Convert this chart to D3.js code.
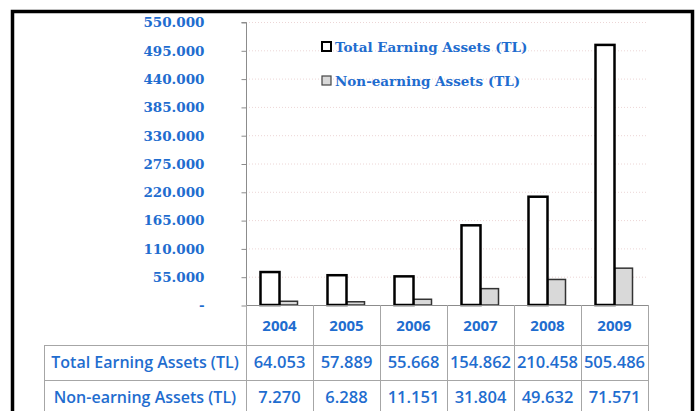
<!DOCTYPE html>
<html>
<head>
<meta charset="utf-8">
<script src="https://cdn.jsdelivr.net/npm/d3@7"></script>
<style>
	body { margin: 0; background: #fff; }
	svg { display: block; }
</style>
</head>
<body>
<div id="graph"></div>
<script>
let width = 697;
let height = 411;

// Data:
let years = ["2004", "2005", "2006", "2007", "2008", "2009"];
let seriesNames = ["Total Earning Assets (TL)", "Non-earning Assets (TL)"];
let totalEarning = [64053, 57889, 55668, 154862, 210458, 505486];
let nonEarning = [7270, 6288, 11151, 31804, 49632, 71571];
let yTicks = [0, 55000, 110000, 165000, 220000, 275000, 330000, 385000, 440000, 495000, 550000];

let blue = "#1f6dcf";
let serifFont = "'DejaVu Serif', serif";
let sansFont = "'Open Sans', 'Noto Sans', sans-serif";

let plot = {
	left: 246,
	right: 648,
	top: 22,
	bottom: 305
	};

// Thousands with a dot, like the original:
let locale = d3.formatLocale({
	decimal: ",",
	thousands: ".",
	grouping: [3],
	currency: ["", ""]
	});
let fmt = locale.format(",");

let svg = d3.select("#graph")
	.append("svg")
		.attr("width", width)
		.attr("height", height)
	;

let xScale = d3.scaleBand()
	.domain(years)
	.range([plot.left, plot.right])
	.padding(0)
	;
let subScale = d3.scaleBand()
	.domain(["total", "non"])
	.range([xScale.bandwidth() / 2 - 19, xScale.bandwidth() / 2 + 19])
	.padding(0)
	;
let yScale = d3.scaleLinear()
	.domain([0, 550000])
	.range([plot.bottom, plot.top])
	;

// Dotted gridlines
svg.append("g")
	.selectAll("line")
	.data(yTicks.filter(d => d > 0))
	.enter()
		.append("line")
			.attr("x1", plot.left)
			.attr("x2", plot.right)
			.attr("y1", d => yScale(d) + 0.5)
			.attr("y2", d => yScale(d) + 0.5)
			.attr("stroke", "#ecd6d6")
			.attr("stroke-dasharray", "1,2")
	;

// y axis
let yAxis = d3.axisLeft(yScale)
	.tickValues(yTicks)
	.tickSize(5)
	.tickSizeOuter(5)
	.tickPadding(37)
	.tickFormat(d => d === 0 ? "-" : fmt(d))
	;
let yG = svg.append("g")
	.attr("transform", `translate(${plot.left + 0.5}, 0.5)`)
	.call(yAxis)
	;
yG.selectAll("path, line").attr("stroke", "#8c8c8c");
yG.select(".domain").attr("d", `M-5,${plot.top}H0V${plot.bottom}`);
yG.selectAll("text")
	.attr("fill", blue)
	.style("font-family", serifFont)
	.style("font-weight", "bold")
	.style("font-size", "13.5px")
	;

// Bars
let groups = svg.append("g")
	.selectAll("g")
	.data(years.map((y, i) => ({year: y, total: totalEarning[i], non: nonEarning[i]})))
	.enter()
		.append("g")
			.attr("transform", d => `translate(${xScale(d.year)}, 0)`)
	;
groups.append("rect")
	.attr("x", subScale("non"))
	.attr("y", d => yScale(d.non))
	.attr("width", subScale.bandwidth() - 1)
	.attr("height", d => yScale(0) - yScale(d.non))
	.attr("fill", "#d9d9d9")
	.attr("stroke", "#333")
	.attr("stroke-width", 1.5)
	;
groups.append("rect")
	.attr("x", subScale("total"))
	.attr("y", d => yScale(d.total))
	.attr("width", subScale.bandwidth())
	.attr("height", d => yScale(0) - yScale(d.total))
	.attr("fill", "#fff")
	.attr("stroke", "#000")
	.attr("stroke-width", 2.5)
	;

// x axis line
svg.append("line")
	.attr("x1", plot.left)
	.attr("x2", plot.right)
	.attr("y1", plot.bottom + 0.5)
	.attr("y2", plot.bottom + 0.5)
	.attr("stroke", "#8c8c8c")
	;

// Legend
let legend = svg.append("g")
	.selectAll("g")
	.data(seriesNames)
	.enter()
		.append("g")
			.attr("transform", (d, i) => `translate(322, ${42 + i * 34})`)
	;
legend.append("rect")
	.attr("width", 9)
	.attr("height", 9)
	.attr("fill", (d, i) => i === 0 ? "#fff" : "#d9d9d9")
	.attr("stroke", (d, i) => i === 0 ? "#000" : "#444")
	.attr("stroke-width", (d, i) => i === 0 ? 2 : 1.2)
	;
legend.append("text")
	.attr("x", 13)
	.attr("y", 9.5)
	.attr("fill", blue)
	.style("font-family", serifFont)
	.style("font-weight", "bold")
	.style("font-size", "13.5px")
	.text(d => d)
	;

// Data table below the chart
let table = {
	labelLeft: 44,
	headerBottom: 345,
	row1Bottom: 380,
	row2Bottom: 420
	};
let tg = svg.append("g");
let gridColor = "#a6a6a6";

// verticals for year columns
tg.selectAll(".vline")
	.data(years.concat(["end"]))
	.enter()
		.append("line")
			.attr("x1", d => (d === "end" ? plot.right : xScale(d)) + 0.5)
			.attr("x2", d => (d === "end" ? plot.right : xScale(d)) + 0.5)
			.attr("y1", plot.bottom)
			.attr("y2", table.row2Bottom)
			.attr("stroke", gridColor)
	;
tg.append("line")
	.attr("x1", table.labelLeft + 0.5)
	.attr("x2", table.labelLeft + 0.5)
	.attr("y1", table.headerBottom)
	.attr("y2", table.row2Bottom)
	.attr("stroke", gridColor)
	;
[table.headerBottom, table.row1Bottom].forEach(y => {
	tg.append("line")
		.attr("x1", table.labelLeft)
		.attr("x2", plot.right)
		.attr("y1", y + 0.5)
		.attr("y2", y + 0.5)
		.attr("stroke", gridColor)
		;
	});

// header years
tg.selectAll(".year")
	.data(years)
	.enter()
		.append("text")
			.attr("x", d => xScale(d) + xScale.bandwidth() / 2)
			.attr("y", 331)
			.attr("text-anchor", "middle")
			.attr("fill", blue)
			.style("font-family", sansFont)
			.style("font-weight", "bold")
			.style("font-size", "15px")
			.text(d => d)
	;

let rows = [
	{label: seriesNames[0], values: totalEarning, y: 368},
	{label: seriesNames[1], values: nonEarning, y: 403}
	];
rows.forEach(row => {
	tg.append("text")
		.attr("x", (table.labelLeft + plot.left) / 2)
		.attr("y", row.y)
		.attr("text-anchor", "middle")
		.attr("fill", blue)
		.style("font-family", sansFont)
		.style("font-weight", 600)
		.style("font-size", "16px")
		.text(row.label)
		;
	tg.selectAll(null)
		.data(row.values)
		.enter()
			.append("text")
				.attr("x", (d, i) => xScale(years[i]) + xScale.bandwidth() / 2)
				.attr("y", row.y)
				.attr("text-anchor", "middle")
				.attr("fill", blue)
				.style("font-family", sansFont)
				.style("font-weight", 600)
				.style("font-size", "16.5px")
				.text(d => fmt(d))
		;
	});

// Outer black frame
svg.append("rect")
	.attr("x", 12.5)
	.attr("y", 11.5)
	.attr("width", 680)
	.attr("height", 420)
	.attr("fill", "none")
	.attr("stroke", "#000")
	.attr("stroke-width", 3.5)
	;
</script>
</body>
</html>
